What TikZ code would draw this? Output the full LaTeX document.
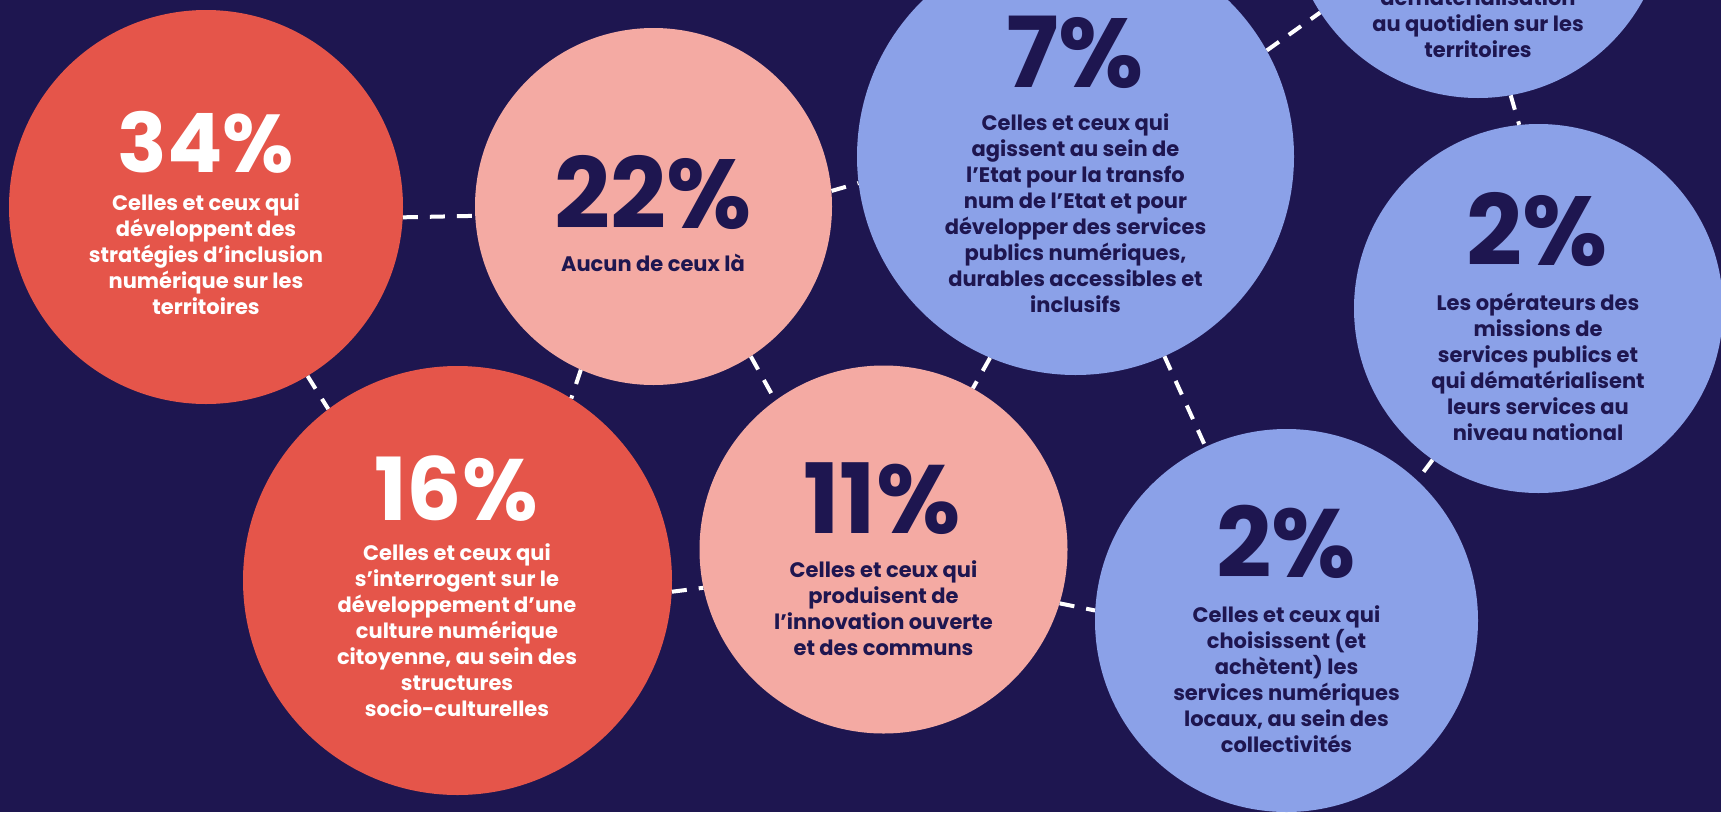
\documentclass[tikz,border=0pt]{standalone}
\usepackage{fontspec}
\setmainfont{Poppins}
\definecolor{navy}{HTML}{1E1650}
\definecolor{coral}{HTML}{E5554A}
\definecolor{rose}{HTML}{F4AAA3}
\definecolor{lavender}{HTML}{8BA1E8}

\begin{document}
\begin{tikzpicture}[x=1pt, y=-1pt,
  bubble/.style={circle, inner sep=0pt, minimum size=#1},
  pct/.style={anchor=base, inner sep=0pt, font=\fontsize{#1}{#1}\selectfont\bfseries},
  txt/.style={anchor=base, inner sep=0pt, align=center, font=\fontsize{21}{26}\selectfont\bfseries},
  link/.style={draw=white, line width=4pt, dash pattern=on 15pt off 12pt}]
  \fill[navy] (0,0) rectangle (1721,812);
  \useasboundingbox (0,0) rectangle (1721,812);
  \clip (0,0) rectangle (1721,812);

  % bubbles
  \node[bubble=394, fill=coral] (c34) at (206,207) {};
  \node[bubble=357, fill=rose] (c22) at (653.5,206.5) {};
  \node[bubble=437, fill=lavender] (c7) at (1075.5,156.5) {};
  \node[bubble=376, fill=lavender] (ctr) at (1478,-90) {};
  \node[bubble=369, fill=lavender] (c2r) at (1538.5,308.5) {};
  \node[bubble=429, fill=coral] (c16) at (457.5,580.5) {};
  \node[bubble=368, fill=rose] (c11) at (883.5,549.5) {};
  \node[bubble=383, fill=lavender] (c2b) at (1286.5,620.5) {};

  % dashed links
  \draw[link] (c34.-3.2) -- (c22.183.4);
  \draw[link] (c34.-59.8) -- (c16.127.2);
  \draw[link] (c22.5.9) -- (c7.187.9);
  \draw[link] (c22.-114.8) -- (c16.58.9);
  \draw[link] (c22.-57.3) -- (c11.126.2);
  \draw[link] (c7.-113.6) -- (c11.61.2);
  \draw[link] (c7.-66.2) -- (c2b.115.6);
  \draw[link] (c7.29.7) -- (ctr.213.5);
  \draw[link] (ctr.-80.3) -- (c2r.96.7);
  \draw[link] (c2r.-125) -- (c2b.47.2);
  \draw[link] (c16.-3.6) -- (c11.192.4);
  \draw[link] (c11.-17.4) -- (c2b.177.8);

  % figures and labels (label nodes sit on the baseline of their last line)
  \node[pct=82, white] (p34) at (206,172) {34\%};
  \node[txt, white] (t34) at (206,314) {Celles et ceux qui\\développent des\\stratégies d’inclusion\\numérique sur les\\territoires};

  \node[pct=98, navy] (p22) at (653,228) {22\%};
  \node[txt, navy] (t22) at (653,271) {Aucun de ceux là};

  \node[pct=98, navy] (p7) at (1075,87) {7\%};
  \node[txt, navy] (t7) at (1075.5,312) {Celles et ceux qui\\agissent au sein de\\l’Etat pour la transfo\\num de l’Etat et pour\\développer des services\\publics numériques,\\durables accessibles et\\inclusifs};

  \node[txt, navy] (ttr) at (1478,57) {dématérialisation\\au quotidien sur les\\territoires};

  \node[pct=98, navy] (p2r) at (1537,265) {2\%};
  \node[txt, navy] (t2r) at (1538,440) {Les opérateurs des\\missions de\\services publics et\\qui dématérialisent\\leurs services au\\niveau national};

  \node[pct=87, white] (p16) at (456,520) {16\%};
  \node[txt, white] (t16) at (457,716) {Celles et ceux qui\\s’interrogent sur le\\développement d’une\\culture numérique\\citoyenne, au sein des\\structures\\socio-culturelles};

  \node[pct=97, navy] (p11) at (882,533) {11\%};
  \node[txt, navy] (t11) at (883.5,655) {Celles et ceux qui\\produisent de\\l’innovation ouverte\\et des communs};

  \node[pct=97, navy] (p2b) at (1286,577) {2\%};
  \node[txt, navy] (t2b) at (1286.5,752) {Celles et ceux qui\\choisissent (et\\achètent) les\\services numériques\\locaux, au sein des\\collectivités};
\end{tikzpicture}
\end{document}
